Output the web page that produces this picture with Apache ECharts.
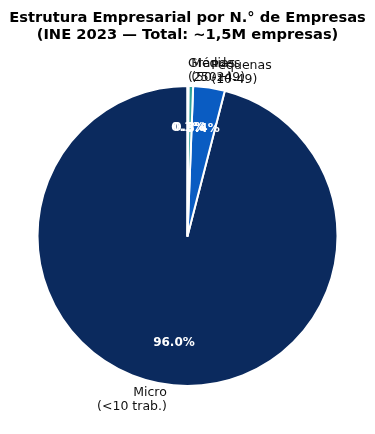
<!DOCTYPE html>
<html><head><meta charset="utf-8">
<script src="https://cdn.jsdelivr.net/npm/echarts@6/dist/echarts.min.js"></script>
<style>html,body{margin:0;padding:0;background:#fff}#c{width:375px;height:434px}</style>
</head><body><div id="c"></div>
<script>
const categories = ['Micro\n(<10 trab.)', 'Pequenas\n(10-49)', 'Médias\n(50-249)', 'Grandes\n(250+)'];
const shares = [96.0, 3.4, 0.5, 0.1];
const colors = ['#0b2a5e', '#0a5cc2', '#2fa39a', '#f0b429'];
const titleLines = ['Estrutura Empresarial por N.° de Empresas', '(INE 2023 — Total: ~1,5M empresas)'];

const font = 'DejaVu Sans';
const chart = echarts.init(document.getElementById('c'), null, {renderer: 'canvas'});
const data = categories.map((n, i) => ({name: n, value: shares[i], itemStyle: {color: colors[i]}}));
chart.setOption({
  animation: false,
  title: {
    text: titleLines.join('\n'), left: 'center', top: 5,
    textStyle: {fontFamily: font, fontWeight: 'bold', fontSize: 14.7, lineHeight: 16.5, color: '#000'}
  },
  series: [
    {
      type: 'pie', center: [187.5, 236], radius: 150, startAngle: 90, clockwise: false,
      avoidLabelOverlap: false, silent: true, minShowLabelAngle: 0,
      labelLayout: {hideOverlap: false},
      itemStyle: {borderColor: '#fff', borderWidth: 2},
      label: {show: true, position: 'outside', formatter: '{b}', fontFamily: font, fontSize: 12.5, lineHeight: 14, color: '#111', distanceToLabelLine: 0},
      labelLine: {show: false, length: 15, length2: 0},
      emphasis: {disabled: true},
      data: data
    },
    {
      type: 'pie', center: [187.5, 236], radius: [60, 150], startAngle: 90, clockwise: false,
      avoidLabelOverlap: false, silent: true, minShowLabelAngle: 0,
      labelLayout: {hideOverlap: false},
      itemStyle: {color: 'transparent', borderWidth: 0},
      label: {show: true, position: 'inside', formatter: p => p.percent.toFixed(1) + '%', fontFamily: font, fontSize: 12, fontWeight: 'bold', color: '#fff'},
      labelLine: {show: false},
      emphasis: {disabled: true},
      data: categories.map((n, i) => ({name: n, value: shares[i]}))
    }
  ]
});
</script></body></html>
